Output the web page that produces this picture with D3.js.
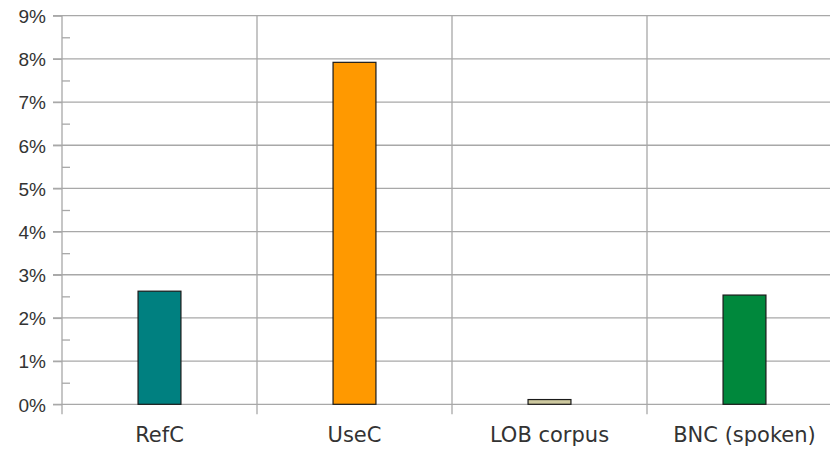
<!DOCTYPE html>
<html>
<head>
<meta charset="utf-8">
<script src="https://cdn.jsdelivr.net/npm/d3@7"></script>
<style>
  body { margin: 0; background: #fff; }
  svg { display: block; font-family: "DejaVu Sans", sans-serif; }
  .yAxisG text { font-size: 19px; fill: #333; }
  .xLabel { font-size: 21px; fill: #333; }
</style>
</head>
<body>
<svg id="chart" width="830" height="450"></svg>
<script>
// data
var categories = ["RefC", "UseC", "LOB corpus", "BNC (spoken)"];
var values = [0.0262, 0.0792, 0.0011, 0.0253];
var barColors = ["#008080", "#ff9900", "#cdc89e", "#00883c"];
var yTicks = [0, 0.01, 0.02, 0.03, 0.04, 0.05, 0.06, 0.07, 0.08, 0.09];

var svg = d3.select("#chart");
var margin = {top: 15.7, left: 62, bottom: 404.3, right: 842};
var gridColor = "#a8a8a8";

var yScale = d3.scaleLinear().domain([0, 0.09]).range([margin.bottom, margin.top]);
var xScale = d3.scaleBand().domain(categories).range([margin.left, margin.right]);
var barWidth = xScale.bandwidth() * 0.22;

// horizontal grid, starting at the tick end
svg.append("g")
    .selectAll("line")
    .data(yTicks)
    .enter()
    .append("line")
    .attr("x1", margin.left - 9)
    .attr("x2", margin.right)
    .attr("y1", function (d) { return yScale(d); })
    .attr("y2", function (d) { return yScale(d); })
    .attr("stroke", gridColor)
    .attr("stroke-width", 1.3);

// vertical separators between categories
svg.append("g")
    .selectAll("line")
    .data(categories)
    .enter()
    .append("line")
    .attr("x1", function (d) { return xScale(d); })
    .attr("x2", function (d) { return xScale(d); })
    .attr("y1", margin.top)
    .attr("y2", margin.bottom + 10)
    .attr("stroke", gridColor)
    .attr("stroke-width", 1.3);

// y axis with major labels
var yAxisG = svg.append("g")
    .attr("class", "yAxisG")
    .attr("transform", "translate(" + margin.left + ",0)")
    .call(d3.axisLeft(yScale)
        .tickValues(yTicks)
        .tickFormat(d3.format(".0%"))
        .tickSize(9)
        .tickPadding(7));
yAxisG.select(".domain").remove();
yAxisG.selectAll("line").attr("stroke", gridColor).attr("stroke-width", 1.3);
yAxisG.selectAll("text").attr("dy", "0.36em");

// minor ticks on the inside
var minorTicks = yTicks.slice(0, -1).map(function (d) { return d + 0.005; });
var minorG = svg.append("g")
    .attr("transform", "translate(" + margin.left + ",0)")
    .call(d3.axisRight(yScale).tickValues(minorTicks).tickSize(8).tickFormat(""));
minorG.select(".domain").remove();
minorG.selectAll("line").attr("stroke", gridColor).attr("stroke-width", 1.3);

// bars
svg.append("g")
    .selectAll("rect")
    .data(values)
    .enter()
    .append("rect")
    .attr("x", function (d, i) {
        return xScale(categories[i]) + (xScale.bandwidth() - barWidth) / 2;
    })
    .attr("y", function (d) { return yScale(d); })
    .attr("width", barWidth)
    .attr("height", function (d) { return margin.bottom - yScale(d); })
    .attr("fill", function (d, i) { return barColors[i]; })
    .attr("stroke", "#1a1a1a")
    .attr("stroke-width", 1.2);

// category labels
svg.append("g")
    .selectAll("text")
    .data(categories)
    .enter()
    .append("text")
    .attr("class", "xLabel")
    .attr("x", function (d) { return xScale(d) + xScale.bandwidth() / 2; })
    .attr("y", 442)
    .attr("text-anchor", "middle")
    .text(function (d) { return d; });
</script>
</body>
</html>
